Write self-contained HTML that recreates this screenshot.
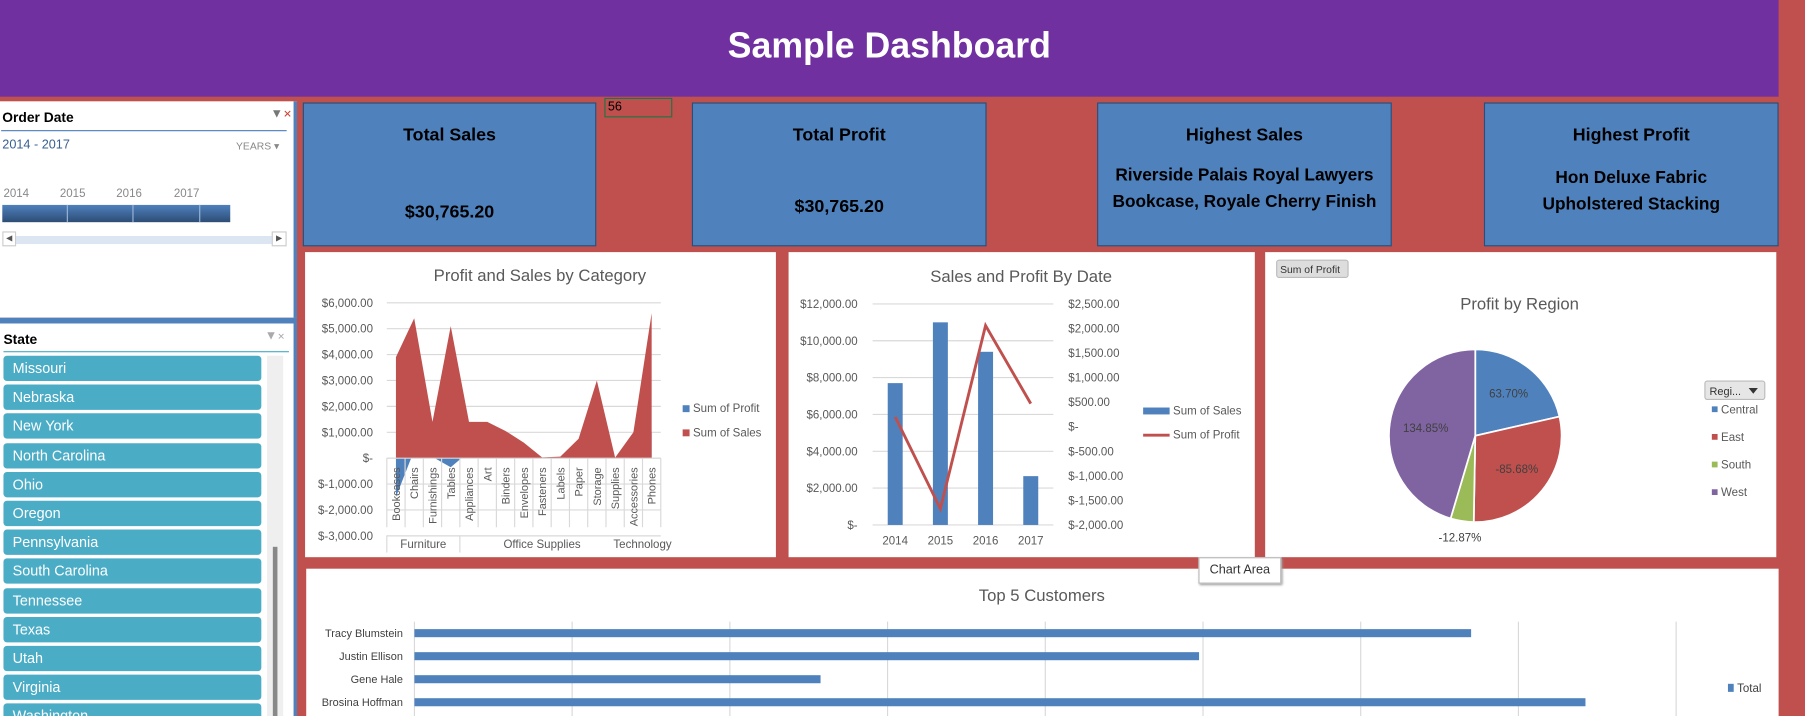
<!DOCTYPE html>
<html><head><meta charset="utf-8"><style>
html,body{margin:0;padding:0;width:1805px;height:716px;overflow:hidden;background:#C0504D;font-family:"Liberation Sans",sans-serif}
#wrap{position:absolute;left:0;top:0;width:1568px;height:622px;transform:scale(1.1512);transform-origin:0 0;background:#C0504D}
.abs{position:absolute}
.kpi{position:absolute;background:#4F81BD;border:1px solid #2c4d75;box-sizing:border-box;color:#000;text-align:center;font-weight:bold}
.state{position:absolute;left:3px;width:224px;height:22px;background:#4BACC6;border-radius:3px;color:#fff;font-size:12.5px;line-height:22px;padding-left:8px;box-sizing:border-box}
svg text{font-family:"Liberation Sans",sans-serif}
</style></head><body>
<div id="wrap">
<div class="abs" style="left:0;top:0;width:1545px;height:84px;background:#7030A0"></div>
<div class="abs" style="left:0;top:22px;width:1545px;text-align:center;color:#fff;font-weight:bold;font-size:31px">Sample Dashboard</div>

<div class="abs" style="left:0;top:88px;width:255px;height:188px;background:#fff;border-right:3px solid #4F81BD">
  <div class="abs" style="left:2px;top:7px;font-weight:bold;font-size:12px">Order Date</div>
  <div class="abs" style="left:235px;top:5px;color:#777;font-size:11px">▼<span style="color:#d04030;font-size:9px">✕</span></div>
  <div class="abs" style="left:1px;top:25px;width:248px;height:1px;background:#4F81BD"></div>
  <div class="abs" style="left:2px;top:32px;color:#365F91;font-size:11px">2014 - 2017</div>
  <div class="abs" style="left:205px;top:34px;color:#888;font-size:9px">YEARS ▾</div>
  <div class="abs" style="left:3px;top:75px;color:#888;font-size:10px">2014</div>
  <div class="abs" style="left:52px;top:75px;color:#888;font-size:10px">2015</div>
  <div class="abs" style="left:101px;top:75px;color:#888;font-size:10px">2016</div>
  <div class="abs" style="left:151px;top:75px;color:#888;font-size:10px">2017</div>
  <div class="abs" style="left:2px;top:90px;width:198px;height:15px;background:linear-gradient(#4F81BD,#2c4d75)"></div>
  <div class="abs" style="left:58px;top:90px;width:1px;height:15px;background:#9bb5d8"></div>
  <div class="abs" style="left:115px;top:90px;width:1px;height:15px;background:#9bb5d8"></div>
  <div class="abs" style="left:173px;top:90px;width:1px;height:15px;background:#9bb5d8"></div>
  <div class="abs" style="left:14px;top:117px;width:222px;height:7px;background:#DCE6F2"></div>
  <div class="abs" style="left:2px;top:113px;width:12px;height:13px;border:1px solid #ccc;box-sizing:border-box;font-size:7px;line-height:11px;text-align:center;color:#555">◀</div>
  <div class="abs" style="left:236px;top:113px;width:13px;height:13px;border:1px solid #ccc;box-sizing:border-box;font-size:7px;line-height:11px;text-align:center;color:#555">▶</div>
</div>
<div class="abs" style="left:0;top:276px;width:258px;height:5px;background:#4F81BD"></div>

<div class="abs" id="stateSlicer" style="left:0;top:281px;width:255px;height:341px;background:#fff;border-right:3px solid #4F81BD;overflow:hidden">
  <div class="abs" style="left:3px;top:7px;font-weight:bold;font-size:12px">State</div>
  <div class="abs" style="left:230px;top:5px;color:#aaa;font-size:11px">▼<span style="font-size:8px">✕</span></div>
  <div class="abs" style="left:3px;top:24px;width:248px;height:1px;background:#4BACC6"></div>
  <div class="abs" style="left:232px;top:28px;width:14px;height:313px;background:#EFEFEF"></div>
  <div class="abs" style="left:237px;top:194px;width:4px;height:147px;background:#888"></div>
</div>

<div class="kpi" style="left:263px;top:89px;width:255px;height:125px"><div style="position:absolute;top:19px;width:100%;font-size:15.5px">Total Sales</div><div style="position:absolute;top:86px;width:100%;font-size:15.5px">$30,765.20</div></div>
<div class="kpi" style="left:601px;top:89px;width:256px;height:125px"><div style="position:absolute;top:19px;width:100%;font-size:15.5px">Total Profit</div><div style="position:absolute;top:81px;width:100%;font-size:15.5px">$30,765.20</div></div>
<div class="kpi" style="left:953px;top:89px;width:256px;height:125px"><div style="position:absolute;top:19px;width:100%;font-size:15.5px">Highest Sales</div><div style="position:absolute;top:51px;width:100%;font-size:15px;line-height:23px">Riverside Palais Royal Lawyers<br>Bookcase, Royale Cherry Finish</div></div>
<div class="kpi" style="left:1289px;top:89px;width:256px;height:125px"><div style="position:absolute;top:19px;width:100%;font-size:15.5px">Highest Profit</div><div style="position:absolute;top:53px;width:100%;font-size:15px;line-height:23px">Hon Deluxe Fabric<br>Upholstered Stacking</div></div>
<div class="abs" style="left:525px;top:85px;width:59px;height:17px;border:1px solid #217346;box-sizing:border-box;background:#C0504D;font-size:11px;line-height:15px;padding-left:2px">56</div>

<svg class="abs" id="svg" style="left:0;top:0" width="1568" height="622"></svg>
<div class="abs" style="left:1041px;top:484px;width:70px;height:21px;background:#fff;border:1px solid #bbb;box-shadow:1px 1px 2px #999;font-size:11px;line-height:20px;text-align:center;color:#333">Chart Area</div>
</div>
<script>
const states=["Missouri","Nebraska","New York","North Carolina","Ohio","Oregon","Pennsylvania","South Carolina","Tennessee","Texas","Utah","Virginia","Washington"];
const catNames=["Bookcases","Chairs","Furnishings","Tables","Appliances","Art","Binders","Envelopes","Fasteners","Labels","Paper","Storage","Supplies","Accessories","Phones"];
const catGroups=["Furniture","Office Supplies","Technology"];
const groupSizes=[4,9,2];
const catSales=[3900,5400,1400,5100,1400,1400,1050,600,30,60,750,3000,20,1000,5600];
const catProfit=[-1500,300,50,-350,250,300,200,250,10,20,150,80,5,150,1000];
const catTicks=[6000,5000,4000,3000,2000,1000,0,-1000,-2000,-3000];
const years=["2014","2015","2016","2017"];
const yearSales=[7700,11000,9400,2650];
const yearProfit=[200,-1670,2060,470];
const salesTicks=[12000,10000,8000,6000,4000,2000,0];
const profitTicks=[2500,2000,1500,1000,500,0,-500,-1000,-1500,-2000];
const regions=["Central","East","South","West"];
const regionPct=[63.70,-85.68,-12.87,134.85];
const customers=["Tracy Blumstein","Justin Ellison","Gene Hale","Brosina Hoffman"];
const custTotal=[6700,4975,2575,7425];

const NS="http://www.w3.org/2000/svg";
const svg=document.getElementById('svg');
function mk(tag,a,parent,txt){const e=document.createElementNS(NS,tag);for(const k in a)e.setAttribute(k,a[k]);if(txt!==undefined)e.textContent=txt;(parent||svg).appendChild(e);return e;}
function money(v){if(v===0)return "$-";const s=Math.abs(v).toLocaleString('en-US',{minimumFractionDigits:2});return v<0?"$-"+s:"$"+s;}

const ss=document.getElementById('stateSlicer');
states.forEach((s,i)=>{const d=document.createElement('div');d.className='state';d.style.top=(28+i*25.2)+'px';d.textContent=s;


ss.appendChild(d);});

[[265,219,409,265,'category-chart-card'],[685,219,405,265,'date-chart-card'],[1099,219,444,265,'region-chart-card'],[266,494,1279,128,'customers-chart-card']].forEach(c=>{const r=mk('rect',{x:c[0],y:c[1],width:c[2],height:c[3],fill:'#fff'});

});

(function(){
const x0=336,x1=574,yZero=398,per=22.5/1000;
const y=v=>yZero-v*per;const cw=(x1-x0)/catNames.length;const cx=i=>x0+(i+0.5)*cw;
const t=mk('text',{x:469,y:244,'text-anchor':'middle','font-size':14.5,fill:'#595959'},null,'Profit and Sales by Category');


catTicks.forEach(v=>{mk('line',{x1:x0,x2:x1,y1:y(v),y2:y(v),stroke:'#d9d9d9'});
const l=mk('text',{x:324,y:y(v)+3.5,'text-anchor':'end','font-size':10,fill:'#595959'},null,money(v));

});
let p="M"+cx(0)+","+yZero;catProfit.forEach((v,i)=>p+=" L"+cx(i)+","+y(v));p+=" L"+cx(catProfit.length-1)+","+yZero+"Z";
const ap=mk('path',{d:p,fill:'#4F81BD'});


p="M"+cx(0)+","+yZero;catSales.forEach((v,i)=>p+=" L"+cx(i)+","+y(v));p+=" L"+cx(catSales.length-1)+","+yZero+"Z";
const as=mk('path',{d:p,fill:'#C0504D'});


for(let i=0;i<=catNames.length;i++)mk('line',{x1:x0+i*cw,x2:x0+i*cw,y1:yZero,y2:458,stroke:'#d9d9d9'});
mk('line',{x1:x0,x2:x1,y1:yZero,y2:yZero,stroke:'#d9d9d9'});
catNames.forEach((n,i)=>{const l=mk('text',{transform:`translate(${cx(i)+3.5},406) rotate(-90)`,'text-anchor':'end','font-size':9.5,fill:'#595959'},null,n);

});
let k=0;mk('line',{x1:x0,x2:x0,y1:465,y2:480,stroke:'#d9d9d9'});
groupSizes.forEach((g,gi)=>{const a=x0+k*cw,b=x0+(k+g)*cw;k+=g;if(gi<1)mk('line',{x1:b,x2:b,y1:465,y2:480,stroke:'#d9d9d9'});
const l=mk('text',{x:(a+b)/2,y:476,'text-anchor':'middle','font-size':10,fill:'#595959'},null,catGroups[gi]);

});
[['Sum of Profit','#4F81BD',356],['Sum of Sales','#C0504D',377]].forEach(L=>{mk('rect',{x:593,y:L[2]-4,width:6,height:6,fill:L[1]});
const l=mk('text',{x:602,y:L[2]+2,'font-size':10,fill:'#595959'},null,L[0]);

});
})();

(function(){
const x0=758,x1=915,yTop=264,yBot=456;
const yL=v=>yBot-(v/12000)*(yBot-yTop);const yR=v=>yBot-((v+2000)/4500)*(yBot-yTop);
const cw=(x1-x0)/years.length;const cx=i=>x0+(i+0.5)*cw;
const t=mk('text',{x:887,y:245,'text-anchor':'middle','font-size':14.5,fill:'#595959'},null,'Sales and Profit By Date');


salesTicks.forEach(v=>{mk('line',{x1:x0,x2:x1,y1:yL(v),y2:yL(v),stroke:'#d9d9d9'});
const l=mk('text',{x:745,y:yL(v)+3.5,'text-anchor':'end','font-size':10,fill:'#595959'},null,money(v));

});
profitTicks.forEach(v=>{const l=mk('text',{x:928,y:yR(v)+3.5,'font-size':10,fill:'#595959'},null,money(v));

});
yearSales.forEach((v,i)=>{const b=mk('rect',{x:cx(i)-6.5,y:yL(v),width:13,height:yBot-yL(v),fill:'#4F81BD'});


const l=mk('text',{x:cx(i),y:473,'text-anchor':'middle','font-size':10,fill:'#595959'},null,years[i]);

});
const pl=mk('polyline',{points:yearProfit.map((v,i)=>cx(i)+","+yR(v)).join(" "),fill:'none',stroke:'#C0504D','stroke-width':2.5});


mk('rect',{x:993,y:354,width:23,height:6,fill:'#4F81BD'});
mk('line',{x1:993,x2:1016,y1:378,y2:378,stroke:'#C0504D','stroke-width':2.5});
[['Sum of Sales',360],['Sum of Profit',381]].forEach(L=>{const l=mk('text',{x:1019,y:L[1],'font-size':10,fill:'#595959'},null,L[0]);

});
})();

(function(){
const cx=1281.5,cy=378.5,r=75;const cols=['#4F81BD','#C0504D','#9BBB59','#8064A2'];
const tot=regionPct.reduce((a,b)=>a+Math.abs(b),0);
const t=mk('text',{x:1320,y:269,'text-anchor':'middle','font-size':14.5,fill:'#595959'},null,'Profit by Region');


const btn=mk('rect',{x:1109,y:226,width:62,height:15,rx:2,fill:'#ddd',stroke:'#bbb'});


mk('text',{x:1112,y:237,'font-size':9,fill:'#333'},null,'Sum of Profit');
let a=0;const lblK=[0.62,0.62,1.16,0.58];const lblDy=[3,3,6,3];
regionPct.forEach((v,i)=>{const f=Math.abs(v)/tot;const a2=a+f*2*Math.PI;
const P=t=>[cx+r*Math.sin(t),cy-r*Math.cos(t)];const s=P(a),e=P(a2);
const path=mk('path',{d:`M${cx},${cy} L${s[0]},${s[1]} A${r},${r} 0 ${f>0.5?1:0} 1 ${e[0]},${e[1]} Z`,fill:cols[i],stroke:'#fff','stroke-width':1.5});


const m=(a+a2)/2,k=lblK[i];
const l=mk('text',{x:cx+r*k*Math.sin(m),y:cy-r*k*Math.cos(m)+lblDy[i],'text-anchor':'middle','font-size':10,fill:'#404040'},null,v.toFixed(2)+'%');


a=a2;});
const dd=mk('rect',{x:1481,y:331,width:52,height:16,rx:2,fill:'#e6e6e6',stroke:'#bbb'});


mk('text',{x:1485,y:343,'font-size':9.5,fill:'#333'},null,'Regi...');
mk('path',{d:'M1519,337 l8,0 l-4,5 z',fill:'#333'});
regions.forEach((n,i)=>{mk('rect',{x:1487,y:353+i*24,width:5,height:5,fill:cols[i]});
const l=mk('text',{x:1495,y:359+i*24,'font-size':10,fill:'#595959'},null,n);

});
})();

(function(){
const x0=360,per=137/1000;const x=v=>x0+v*per;
const t=mk('text',{x:905,y:522,'text-anchor':'middle','font-size':14.5,fill:'#595959'},null,'Top 5 Customers');


for(let g=0;g<=8;g++)mk('line',{x1:x(g*1000),x2:x(g*1000),y1:540,y2:622,stroke:'#d9d9d9'});
custTotal.forEach((v,i)=>{const yc=550+i*20;const b=mk('rect',{x:x0,y:yc-3.5,width:x(v)-x0,height:7,fill:'#4F81BD'});


const l=mk('text',{x:350,y:yc+3.5,'text-anchor':'end','font-size':9.5,fill:'#404040'},null,customers[i]);

});
mk('rect',{x:1501,y:594,width:5,height:7,fill:'#4F81BD'});
const l=mk('text',{x:1509,y:601,'font-size':10,fill:'#404040'},null,'Total');


})();
</script>
</body></html>
